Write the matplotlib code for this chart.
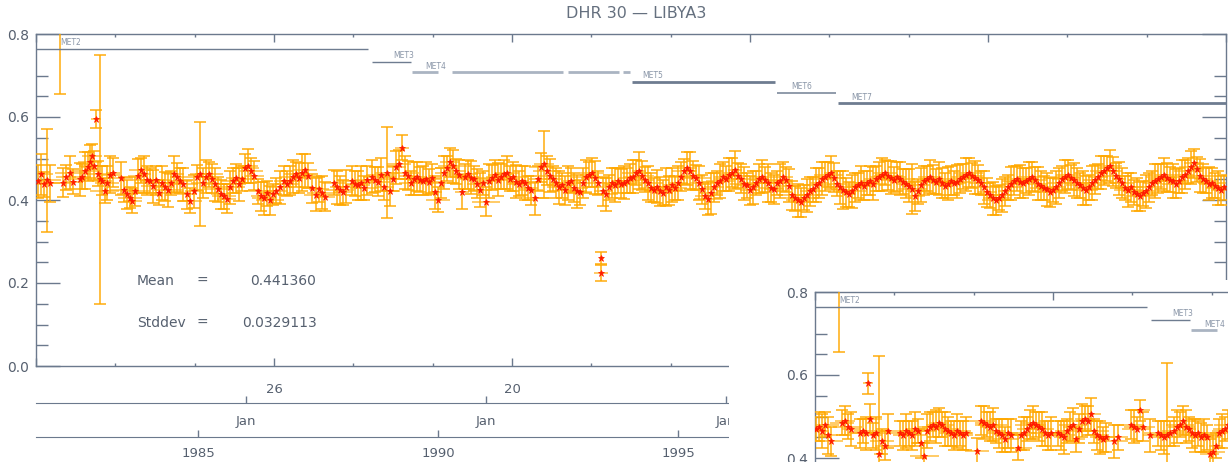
import matplotlib
matplotlib.use("Agg")
import matplotlib.pyplot as plt
from matplotlib.patches import Rectangle

# ---------------- data ----------------
TITLE = "DHR 30 \u2014 LIBYA3"
MEAN_TEXT = "0.441360"
STDDEV_TEXT = "0.0329113"

MAIN_YEARS = [
    1981.67, 1981.73, 1981.79, 1981.85, 1981.92, 1982.13, 1982.19, 1982.25, 1982.33, 1982.40,
    1982.54, 1982.58, 1982.65, 1982.71, 1982.75, 1982.79, 1982.83, 1982.875, 1982.92, 1982.96,
    1983.00, 1983.06, 1983.10, 1983.17, 1983.23, 1983.40, 1983.46, 1983.52, 1983.58, 1983.63,
    1983.69, 1983.75, 1983.81, 1983.88, 1983.94, 1984.00, 1984.06, 1984.13, 1984.19, 1984.25,
    1984.31, 1984.38, 1984.44, 1984.50, 1984.56, 1984.63, 1984.69, 1984.77, 1984.83, 1984.92,
    1984.98, 1985.04, 1985.10, 1985.17, 1985.23, 1985.29, 1985.35, 1985.42, 1985.48, 1985.54,
    1985.60, 1985.67, 1985.73, 1985.79, 1985.85, 1985.92, 1985.98, 1986.04, 1986.10, 1986.17,
    1986.25, 1986.31, 1986.38, 1986.44, 1986.50, 1986.56, 1986.63, 1986.71, 1986.79, 1986.85,
    1986.92, 1986.98, 1987.04, 1987.10, 1987.17, 1987.23, 1987.29, 1987.38, 1987.46, 1987.52,
    1987.58, 1987.65, 1987.83, 1987.90, 1987.96, 1988.02, 1988.08, 1988.21, 1988.27, 1988.33,
    1988.40, 1988.46, 1988.52, 1988.63, 1988.69, 1988.75, 1988.81, 1988.88, 1988.94, 1989.00,
    1989.06, 1989.13, 1989.19, 1989.25, 1989.31, 1989.38, 1989.44, 1989.50, 1989.56, 1989.63,
    1989.69, 1989.75, 1989.81, 1989.88, 1989.94, 1990.00, 1990.06, 1990.13, 1990.19, 1990.25,
    1990.31, 1990.38, 1990.44, 1990.50, 1990.56, 1990.63, 1990.69, 1990.75, 1990.81, 1990.88,
    1990.94, 1991.00, 1991.06, 1991.13, 1991.19, 1991.25, 1991.31, 1991.38, 1991.44, 1991.50,
    1991.56, 1991.63, 1991.69, 1991.75, 1991.81, 1991.88, 1991.94, 1992.02, 1992.08, 1992.15,
    1992.21, 1992.27, 1992.33, 1992.40, 1992.46, 1992.52, 1992.58, 1992.65, 1992.71, 1992.77,
    1992.83, 1992.90, 1992.96, 1993.02, 1993.08, 1993.15, 1993.21, 1993.27, 1993.33, 1993.40,
    1993.40, 1993.44, 1993.50, 1993.56, 1993.63, 1993.69, 1993.75, 1993.81, 1993.88, 1993.94,
    1994.00, 1994.06, 1994.13, 1994.19, 1994.25, 1994.31, 1994.38, 1994.44, 1994.50, 1994.56, 1994.63, 1994.69, 1994.75, 1994.81, 1994.88, 1994.94,
    1995.00, 1995.06, 1995.13, 1995.19, 1995.25, 1995.31, 1995.38, 1995.44, 1995.50, 1995.56, 1995.63, 1995.69, 1995.75, 1995.81, 1995.88, 1995.94,
    1996.00, 1996.06, 1996.13, 1996.19, 1996.25, 1996.31, 1996.38, 1996.44, 1996.50, 1996.56, 1996.63, 1996.69, 1996.75, 1996.81, 1996.88, 1996.94,
    1997.00, 1997.06, 1997.13, 1997.19, 1997.25, 1997.31, 1997.38, 1997.44, 1997.50, 1997.56, 1997.63, 1997.69, 1997.75, 1997.81, 1997.88, 1997.94,
    1998.00, 1998.06, 1998.13, 1998.19, 1998.25, 1998.31, 1998.38, 1998.44, 1998.50, 1998.56, 1998.63, 1998.69, 1998.75, 1998.81, 1998.88, 1998.94,
    1999.00, 1999.06, 1999.13, 1999.19, 1999.25, 1999.31, 1999.38, 1999.44, 1999.50, 1999.56, 1999.63, 1999.69, 1999.75, 1999.81, 1999.88, 1999.94,
    2000.00, 2000.06, 2000.13, 2000.19, 2000.25, 2000.31, 2000.38, 2000.44, 2000.50, 2000.56, 2000.63, 2000.69, 2000.75, 2000.81, 2000.88, 2000.94,
    2001.00, 2001.06, 2001.13, 2001.19, 2001.25, 2001.31, 2001.38, 2001.44, 2001.50, 2001.56, 2001.63, 2001.69, 2001.75, 2001.81, 2001.88, 2001.94,
    2002.00, 2002.06, 2002.13, 2002.19, 2002.25, 2002.31, 2002.38, 2002.44, 2002.50, 2002.56, 2002.63, 2002.69, 2002.75, 2002.81, 2002.88, 2002.94,
    2003.00, 2003.06, 2003.13, 2003.19, 2003.25, 2003.31, 2003.38, 2003.44, 2003.50, 2003.56, 2003.63, 2003.69, 2003.75, 2003.81, 2003.88, 2003.94,
    2004.00, 2004.06, 2004.13, 2004.19, 2004.25, 2004.31, 2004.38, 2004.44, 2004.50, 2004.56, 2004.63, 2004.69, 2004.75, 2004.81, 2004.88, 2004.94,
    2005.00, 2005.06, 2005.13, 2005.19, 2005.25, 2005.31, 2005.38, 2005.44, 2005.50, 2005.56, 2005.63, 2005.69, 2005.75, 2005.81, 2005.88, 2005.94,
    2006.00, 2006.06, 2006.13, 2006.19, 2006.25, 2006.31, 2006.38,
]

MAIN_VALUES = [
    0.445, 0.462, 0.438, 0.447, 0.440, 0.860, 0.442, 0.455, 0.466, 0.444,
    0.450, 0.456, 0.471, 0.480, 0.492, 0.505, 0.482, 0.595, 0.463, 0.450,
    0.446, 0.422, 0.441, 0.461, 0.466, 0.452, 0.425, 0.414, 0.406, 0.398,
    0.421, 0.458, 0.472, 0.462, 0.448, 0.446, 0.433, 0.447, 0.418, 0.441,
    0.432, 0.424, 0.441, 0.462, 0.455, 0.446, 0.438, 0.414, 0.398, 0.421,
    0.455, 0.462, 0.441, 0.456, 0.462, 0.451, 0.438, 0.426, 0.414, 0.409,
    0.403, 0.431, 0.446, 0.452, 0.438, 0.451, 0.476, 0.482, 0.471, 0.458,
    0.421, 0.409, 0.404, 0.416, 0.399, 0.414, 0.422, 0.431, 0.446, 0.439,
    0.446, 0.456, 0.462, 0.453, 0.466, 0.472, 0.459, 0.428, 0.413, 0.426,
    0.418, 0.408, 0.442, 0.431, 0.424, 0.419, 0.432, 0.446, 0.439, 0.436,
    0.441, 0.429, 0.447, 0.456, 0.449, 0.444, 0.461, 0.431, 0.466, 0.421,
    0.451, 0.479, 0.486, 0.526, 0.466, 0.459, 0.441, 0.451, 0.456, 0.449,
    0.446, 0.451, 0.444, 0.452, 0.419, 0.401, 0.441, 0.466, 0.476, 0.491,
    0.481, 0.469, 0.461, 0.419, 0.456, 0.462, 0.454, 0.451, 0.439, 0.424,
    0.441, 0.396, 0.446, 0.454, 0.461, 0.449, 0.456, 0.462, 0.466, 0.451,
    0.456, 0.444, 0.439, 0.446, 0.441, 0.429, 0.424, 0.404, 0.451, 0.479,
    0.486, 0.471, 0.459, 0.451, 0.441, 0.431, 0.436, 0.424, 0.441, 0.446,
    0.429, 0.421, 0.419, 0.441, 0.456, 0.461, 0.466, 0.454, 0.441, 0.260,
    0.224, 0.421, 0.414, 0.431, 0.441, 0.436, 0.446, 0.439, 0.442, 0.446,
    0.452, 0.456, 0.466, 0.471, 0.459, 0.449, 0.441, 0.429, 0.424, 0.432, 0.421, 0.418, 0.431, 0.424, 0.436, 0.429,
    0.441, 0.456, 0.469, 0.476, 0.471, 0.459, 0.454, 0.441, 0.426, 0.409, 0.403, 0.416, 0.431, 0.441, 0.446, 0.456,
    0.451, 0.461, 0.466, 0.472, 0.459, 0.451, 0.439, 0.436, 0.424, 0.431, 0.441, 0.451, 0.456, 0.449, 0.441, 0.429,
    0.426, 0.441, 0.446, 0.456, 0.449, 0.434, 0.411, 0.404, 0.399, 0.394, 0.406, 0.411, 0.421, 0.426, 0.436, 0.441,
    0.451, 0.456, 0.461, 0.466, 0.454, 0.439, 0.431, 0.424, 0.419, 0.414, 0.421, 0.431, 0.436, 0.441, 0.434, 0.441,
    0.446, 0.439, 0.451, 0.456, 0.461, 0.466, 0.459, 0.454, 0.449, 0.456, 0.451, 0.444, 0.439, 0.434, 0.426, 0.409,
    0.421, 0.436, 0.446, 0.451, 0.456, 0.449, 0.444, 0.451, 0.441, 0.434, 0.439, 0.446, 0.441, 0.444, 0.451, 0.456,
    0.461, 0.466, 0.459, 0.454, 0.449, 0.441, 0.431, 0.419, 0.411, 0.404, 0.399, 0.406, 0.411, 0.421, 0.431, 0.439,
    0.446, 0.451, 0.444, 0.441, 0.446, 0.451, 0.456, 0.449, 0.439, 0.434, 0.429, 0.426, 0.419, 0.424, 0.431, 0.441,
    0.451, 0.456, 0.461, 0.454, 0.449, 0.441, 0.436, 0.429, 0.424, 0.431, 0.441, 0.449, 0.456, 0.466, 0.471, 0.476,
    0.481, 0.469, 0.459, 0.451, 0.441, 0.429, 0.424, 0.431, 0.419, 0.414, 0.409, 0.416, 0.421, 0.431, 0.441, 0.446,
    0.451, 0.456, 0.461, 0.454, 0.449, 0.446, 0.439, 0.446, 0.456, 0.461, 0.471, 0.479, 0.489, 0.474, 0.459, 0.451,
    0.446, 0.439, 0.441, 0.434, 0.429, 0.424, 0.431,
]

MAIN_YERR = [
    0.040, 0.050, 0.030, 0.125, 0.045, 0.205, 0.035, 0.030, 0.040, 0.030,
    0.040, 0.030, 0.045, 0.035, 0.040, 0.030, 0.035, 0.022, 0.030, 0.300,
    0.035, 0.030, 0.040, 0.045, 0.035, 0.040, 0.030, 0.035, 0.025, 0.030,
    0.035, 0.040, 0.030, 0.045, 0.035, 0.030, 0.040, 0.035, 0.030, 0.040,
    0.035, 0.040, 0.030, 0.045, 0.035, 0.030, 0.040, 0.035, 0.030, 0.040,
    0.030, 0.125, 0.035, 0.040, 0.030, 0.035, 0.040, 0.030, 0.035, 0.030,
    0.035, 0.040, 0.030, 0.035, 0.040, 0.030, 0.035, 0.040, 0.030, 0.035,
    0.030, 0.035, 0.040, 0.030, 0.035, 0.025, 0.030, 0.040, 0.035, 0.030,
    0.035, 0.040, 0.030, 0.035, 0.045, 0.040, 0.030, 0.035, 0.040, 0.030,
    0.040, 0.035, 0.030, 0.040, 0.035, 0.030, 0.040, 0.035, 0.030, 0.035,
    0.040, 0.030, 0.035, 0.040, 0.030, 0.035, 0.040, 0.030, 0.110, 0.035,
    0.030, 0.040, 0.035, 0.030, 0.040, 0.035, 0.030, 0.040, 0.035, 0.030,
    0.035, 0.040, 0.030, 0.035, 0.040, 0.030, 0.035, 0.040, 0.030, 0.035,
    0.040, 0.030, 0.035, 0.040, 0.030, 0.035, 0.040, 0.030, 0.035, 0.040,
    0.030, 0.035, 0.040, 0.030, 0.035, 0.040, 0.030, 0.035, 0.040, 0.030,
    0.035, 0.040, 0.030, 0.035, 0.040, 0.030, 0.035, 0.040, 0.030, 0.035,
    0.080, 0.035, 0.040, 0.030, 0.035, 0.040, 0.030, 0.035, 0.040, 0.030,
    0.035, 0.040, 0.030, 0.035, 0.040, 0.030, 0.035, 0.040, 0.030, 0.015,
    0.020, 0.035, 0.040, 0.030, 0.035, 0.040, 0.030, 0.035, 0.040, 0.030,
    0.035, 0.040, 0.030, 0.045, 0.035, 0.030, 0.040, 0.035, 0.030, 0.040, 0.035, 0.030, 0.045, 0.035, 0.040, 0.030,
    0.040, 0.035, 0.030, 0.040, 0.045, 0.035, 0.030, 0.040, 0.035, 0.030, 0.040, 0.050, 0.035, 0.030, 0.040, 0.035,
    0.030, 0.040, 0.035, 0.045, 0.030, 0.035, 0.040, 0.030, 0.035, 0.040, 0.030, 0.035, 0.040, 0.030, 0.045, 0.035,
    0.035, 0.030, 0.040, 0.035, 0.030, 0.040, 0.035, 0.030, 0.040, 0.035, 0.030, 0.040, 0.035, 0.030, 0.040, 0.035,
    0.040, 0.035, 0.030, 0.040, 0.035, 0.030, 0.040, 0.045, 0.035, 0.030, 0.040, 0.035, 0.030, 0.040, 0.035, 0.030,
    0.035, 0.040, 0.030, 0.035, 0.040, 0.030, 0.035, 0.040, 0.030, 0.035, 0.040, 0.030, 0.035, 0.040, 0.060, 0.035,
    0.030, 0.040, 0.035, 0.030, 0.040, 0.035, 0.030, 0.040, 0.035, 0.030, 0.040, 0.035, 0.030, 0.040, 0.035, 0.030,
    0.040, 0.035, 0.030, 0.040, 0.035, 0.030, 0.040, 0.035, 0.030, 0.040, 0.035, 0.030, 0.040, 0.035, 0.030, 0.040,
    0.035, 0.030, 0.040, 0.035, 0.030, 0.040, 0.035, 0.030, 0.040, 0.035, 0.030, 0.040, 0.035, 0.030, 0.040, 0.035,
    0.030, 0.040, 0.035, 0.030, 0.040, 0.035, 0.030, 0.040, 0.035, 0.030, 0.040, 0.035, 0.030, 0.040, 0.035, 0.030,
    0.040, 0.035, 0.030, 0.040, 0.035, 0.030, 0.040, 0.035, 0.030, 0.040, 0.035, 0.030, 0.040, 0.035, 0.030, 0.040,
    0.035, 0.030, 0.040, 0.035, 0.030, 0.040, 0.035, 0.030, 0.040, 0.035, 0.030, 0.040, 0.035, 0.030, 0.040, 0.035,
    0.030, 0.040, 0.035, 0.030, 0.040, 0.035, 0.030,
]

MAIN_XERR = [
    0.20, 0.25, 0.15, 0.30, 0.20, 0.05, 0.25, 0.20, 0.30, 0.20,
    0.25, 0.20, 0.30, 0.15, 0.25, 0.20, 0.30, 0.10, 0.25, 0.10,
    0.20, 0.30, 0.25, 0.20, 0.15, 0.25, 0.30, 0.20, 0.25, 0.20,
    0.30, 0.20, 0.25, 0.15, 0.30, 0.20, 0.25, 0.30, 0.20, 0.25,
    0.20, 0.30, 0.25, 0.20, 0.15, 0.25, 0.30, 0.20, 0.25, 0.20,
    0.30, 0.20, 0.25, 0.15, 0.30, 0.20, 0.25, 0.30, 0.20, 0.25,
    0.20, 0.30, 0.25, 0.20, 0.15, 0.25, 0.30, 0.20, 0.25, 0.20,
    0.30, 0.20, 0.25, 0.15, 0.30, 0.20, 0.25, 0.30, 0.20, 0.25,
    0.20, 0.30, 0.25, 0.20, 0.15, 0.25, 0.30, 0.20, 0.25, 0.20,
    0.30, 0.20, 0.25, 0.15, 0.30, 0.20, 0.25, 0.30, 0.20, 0.25,
    0.20, 0.30, 0.25, 0.20, 0.15, 0.25, 0.30, 0.20, 0.25, 0.20,
    0.30, 0.20, 0.25, 0.15, 0.30, 0.20, 0.25, 0.30, 0.20, 0.25,
    0.20, 0.30, 0.25, 0.20, 0.15, 0.25, 0.30, 0.20, 0.25, 0.20,
    0.30, 0.20, 0.25, 0.15, 0.30, 0.20, 0.25, 0.30, 0.20, 0.25,
    0.20, 0.30, 0.25, 0.20, 0.15, 0.25, 0.30, 0.20, 0.25, 0.20,
    0.30, 0.20, 0.25, 0.15, 0.30, 0.20, 0.25, 0.30, 0.20, 0.25,
    0.20, 0.30, 0.25, 0.20, 0.15, 0.25, 0.30, 0.20, 0.25, 0.20,
    0.30, 0.20, 0.25, 0.15, 0.30, 0.20, 0.25, 0.30, 0.20, 0.05,
    0.15, 0.20, 0.25, 0.30, 0.20, 0.25, 0.15, 0.30, 0.20, 0.25,
    0.25, 0.20, 0.30, 0.15, 0.25, 0.20, 0.30, 0.25, 0.20, 0.15, 0.30, 0.20, 0.25, 0.30, 0.20, 0.25,
    0.20, 0.30, 0.25, 0.20, 0.15, 0.25, 0.30, 0.20, 0.25, 0.20, 0.30, 0.25, 0.20, 0.15, 0.30, 0.20,
    0.25, 0.20, 0.30, 0.15, 0.25, 0.20, 0.30, 0.25, 0.20, 0.15, 0.30, 0.20, 0.25, 0.30, 0.20, 0.25,
    0.20, 0.30, 0.25, 0.20, 0.15, 0.25, 0.30, 0.20, 0.25, 0.20, 0.30, 0.25, 0.20, 0.15, 0.30, 0.20,
    0.25, 0.20, 0.30, 0.15, 0.25, 0.20, 0.30, 0.25, 0.20, 0.15, 0.30, 0.20, 0.25, 0.30, 0.20, 0.25,
    0.20, 0.30, 0.25, 0.20, 0.15, 0.25, 0.30, 0.20, 0.25, 0.20, 0.30, 0.25, 0.20, 0.15, 0.30, 0.20,
    0.25, 0.20, 0.30, 0.15, 0.25, 0.20, 0.30, 0.25, 0.20, 0.15, 0.30, 0.20, 0.25, 0.30, 0.20, 0.25,
    0.20, 0.30, 0.25, 0.20, 0.15, 0.25, 0.30, 0.20, 0.25, 0.20, 0.30, 0.25, 0.20, 0.15, 0.30, 0.20,
    0.25, 0.20, 0.30, 0.15, 0.25, 0.20, 0.30, 0.25, 0.20, 0.15, 0.30, 0.20, 0.25, 0.30, 0.20, 0.25,
    0.20, 0.30, 0.25, 0.20, 0.15, 0.25, 0.30, 0.20, 0.25, 0.20, 0.30, 0.25, 0.20, 0.15, 0.30, 0.20,
    0.25, 0.20, 0.30, 0.15, 0.25, 0.20, 0.30, 0.25, 0.20, 0.15, 0.30, 0.20, 0.25, 0.30, 0.20, 0.25,
    0.20, 0.30, 0.25, 0.20, 0.15, 0.25, 0.30, 0.20, 0.25, 0.20, 0.30, 0.25, 0.20, 0.15, 0.30, 0.20,
    0.25, 0.20, 0.30, 0.15, 0.25, 0.20, 0.30,
]

INSET_YEARS = [
    1981.65, 1981.71, 1981.77, 1981.83, 1981.90, 1981.96, 1982.13, 1982.19, 1982.25, 1982.31,
    1982.38, 1982.56, 1982.63, 1982.69, 1982.73, 1982.77, 1982.83, 1982.90, 1982.96, 1983.02,
    1983.08, 1983.15, 1983.40, 1983.46, 1983.52, 1983.58, 1983.65, 1983.71, 1983.77, 1983.83,
    1983.90, 1983.96, 1984.02, 1984.08, 1984.15, 1984.21, 1984.27, 1984.33, 1984.40, 1984.46,
    1984.52, 1984.58, 1984.65, 1984.71, 1984.77, 1985.00, 1985.08, 1985.15, 1985.21, 1985.27,
    1985.33, 1985.40, 1985.46, 1985.52, 1985.58, 1985.65, 1985.71, 1985.85, 1985.92, 1985.98,
    1986.04, 1986.10, 1986.17, 1986.23, 1986.29, 1986.35, 1986.42, 1986.48, 1986.54, 1986.69,
    1986.75, 1986.81, 1986.88, 1986.94, 1987.00, 1987.06, 1987.13, 1987.19, 1987.25, 1987.31,
    1987.38, 1987.44, 1987.50, 1987.56, 1987.63, 1987.69, 1987.85, 1987.94, 1988.21, 1988.27,
    1988.33, 1988.40, 1988.46, 1988.60, 1988.77, 1988.83, 1988.90, 1988.96, 1989.02, 1989.10,
    1989.17, 1989.23, 1989.29, 1989.35, 1989.42, 1989.48, 1989.54, 1989.60, 1989.67, 1989.73,
    1989.79, 1989.85, 1989.92, 1989.98, 1990.04, 1990.10, 1990.17, 1990.23,
]

INSET_VALUES = [
    0.470, 0.475, 0.465, 0.480, 0.455, 0.440, 0.860, 0.485, 0.490, 0.475,
    0.470, 0.460, 0.465, 0.460, 0.580, 0.495, 0.455, 0.460, 0.410, 0.440,
    0.430, 0.465, 0.460, 0.455, 0.465, 0.460, 0.455, 0.470, 0.465, 0.435,
    0.405, 0.465, 0.475, 0.480, 0.475, 0.485, 0.480, 0.470, 0.465, 0.460,
    0.455, 0.465, 0.460, 0.455, 0.460, 0.418, 0.490, 0.485, 0.480, 0.475,
    0.480, 0.465, 0.460, 0.455, 0.445, 0.460, 0.455, 0.425, 0.455, 0.460,
    0.470, 0.480, 0.485, 0.480, 0.475, 0.470, 0.460, 0.455, 0.460, 0.460,
    0.455, 0.450, 0.465, 0.475, 0.480, 0.445, 0.470, 0.490, 0.495, 0.490,
    0.505, 0.465, 0.455, 0.450, 0.445, 0.450, 0.440, 0.450, 0.480, 0.475,
    0.470, 0.515, 0.475, 0.455, 0.460, 0.455, 0.450, 0.455, 0.460, 0.465,
    0.475, 0.480, 0.490, 0.475, 0.470, 0.460, 0.455, 0.460, 0.450, 0.455,
    0.450, 0.410, 0.415, 0.430, 0.460, 0.465, 0.470, 0.480,
]

INSET_YERR = [
    0.030, 0.035, 0.040, 0.030, 0.045, 0.035, 0.205, 0.030, 0.035, 0.030,
    0.040, 0.035, 0.030, 0.040, 0.025, 0.035, 0.030, 0.040, 0.235, 0.030,
    0.035, 0.040, 0.030, 0.035, 0.040, 0.030, 0.035, 0.040, 0.030, 0.035,
    0.030, 0.040, 0.035, 0.030, 0.040, 0.035, 0.030, 0.040, 0.035, 0.030,
    0.035, 0.040, 0.030, 0.035, 0.040, 0.030, 0.035, 0.040, 0.030, 0.035,
    0.040, 0.030, 0.035, 0.040, 0.030, 0.035, 0.040, 0.030, 0.035, 0.040,
    0.030, 0.035, 0.040, 0.030, 0.035, 0.040, 0.030, 0.035, 0.040, 0.030,
    0.035, 0.040, 0.030, 0.035, 0.040, 0.030, 0.035, 0.040, 0.030, 0.035,
    0.040, 0.030, 0.035, 0.040, 0.030, 0.035, 0.040, 0.030, 0.035, 0.040,
    0.030, 0.025, 0.035, 0.040, 0.030, 0.035, 0.040, 0.175, 0.030, 0.035,
    0.040, 0.030, 0.035, 0.040, 0.030, 0.035, 0.040, 0.030, 0.035, 0.040,
    0.030, 0.035, 0.040, 0.030, 0.035, 0.040, 0.030, 0.035,
]

INSET_XERR = [
    0.20, 0.25, 0.15, 0.30, 0.20, 0.25, 0.05, 0.25, 0.20, 0.30,
    0.20, 0.25, 0.20, 0.30, 0.10, 0.25, 0.20, 0.30, 0.10, 0.25,
    0.20, 0.30, 0.25, 0.20, 0.15, 0.25, 0.30, 0.20, 0.25, 0.20,
    0.30, 0.20, 0.25, 0.15, 0.30, 0.20, 0.25, 0.30, 0.20, 0.25,
    0.20, 0.30, 0.25, 0.20, 0.15, 0.25, 0.30, 0.20, 0.25, 0.20,
    0.30, 0.20, 0.25, 0.15, 0.30, 0.20, 0.25, 0.30, 0.20, 0.25,
    0.20, 0.30, 0.25, 0.20, 0.15, 0.25, 0.30, 0.20, 0.25, 0.20,
    0.30, 0.20, 0.25, 0.15, 0.30, 0.20, 0.25, 0.30, 0.20, 0.25,
    0.20, 0.30, 0.25, 0.20, 0.15, 0.25, 0.30, 0.20, 0.25, 0.20,
    0.30, 0.20, 0.25, 0.15, 0.30, 0.20, 0.25, 0.10, 0.20, 0.25,
    0.20, 0.30, 0.25, 0.20, 0.15, 0.25, 0.30, 0.20, 0.25, 0.20,
    0.30, 0.20, 0.25, 0.15, 0.30, 0.20, 0.25, 0.30,
]

MET_NAMES = ["MET2", "MET3", "MET4", "MET5", "MET6", "MET7"]
MET_LEVELS = [0.764, 0.733, 0.708, 0.684, 0.658, 0.633]
MET_SEGMENTS = [
    [(1981.625, 1988.54)],
    [(1988.625, 1989.44)],
    [(1989.46, 1990.00), (1990.29, 1992.60), (1992.71, 1993.77), (1993.85, 1994.00)],
    [(1994.04, 1997.02)],
    [(1997.06, 1998.29)],
    [(1998.33, 2006.42)],
]
MET_LABEL_X = [1982.12, 1989.06, 1989.73, 1994.25, 1997.37, 1998.62]
MET_WIDTHS = [1.0, 1.0, 2.0, 2.0, 1.2, 2.0]
MET_COLORS = ["#6e7c90", "#6e7c90", "#aab4c2", "#6e7c90", "#7d8a9c", "#6e7c90"]

Y_MAJOR = [0.0, 0.2, 0.4, 0.6, 0.8]
Y_LABELS = ["0.0", "0.2", "0.4", "0.6", "0.8"]
Y_MINOR = [0.05, 0.10, 0.15, 0.25, 0.30, 0.35, 0.45, 0.50, 0.55, 0.65, 0.70]
BOTTOM_LABELS = ["", "26", "20", "", "", ""]
JAN_TICKS = [1986.0, 1991.0, 1996.0]
JAN_LABELS = ["Jan", "Jan", "Jan"]
YEAR_TICKS = [1985.0, 1990.0, 1995.0]
YEAR_LABELS = ["1985", "1990", "1995"]

# ---------------- style ----------------
W, H = 1228, 462
XMIN, XMAX = 1981.625, 2006.417
AXIS = "#6b798d"
TEXT = "#56606f"
ORANGE = "#ffa800"
RED = "#ff1a00"


def box(l, t, r, b):
    return [l / W, 1 - b / H, (r - l) / W, (b - t) / H]


fig = plt.figure(figsize=(W / 100, H / 100), dpi=100)
fig.patch.set_facecolor("white")


def style_panel(ax, bottom_labels):
    ax.set_xlim(XMIN, XMAX)
    ax.set_ylim(0, 0.8)
    for s in ax.spines.values():
        s.set_color(AXIS)
        s.set_linewidth(1.0)
    step = (XMAX - XMIN) / 15
    xt = [XMIN + k * step for k in range(16)]
    ax.set_xticks([xt[k] for k in (0, 3, 6, 9, 12, 15)], labels=bottom_labels)
    ax.set_xticks([xt[k] for k in range(16) if k % 3], minor=True)
    ax.set_yticks(Y_MAJOR, labels=Y_LABELS)
    ax.set_yticks(Y_MINOR, minor=True)
    ax.tick_params(axis="x", which="major", direction="in", length=6, width=1,
                   top=True, bottom=True, color=AXIS, labelsize=9.5,
                   labelcolor=TEXT, pad=12)
    ax.tick_params(axis="x", which="minor", direction="in", length=2.5, width=1,
                   top=True, bottom=True, color=AXIS)
    ax.tick_params(axis="y", which="major", direction="in", length=17, width=1,
                   left=True, right=True, color=AXIS, labelsize=10,
                   labelcolor=TEXT, pad=5)
    ax.tick_params(axis="y", which="minor", direction="in", length=8.5, width=1,
                   left=True, right=True, color=AXIS)


def draw_panel(ax, xs, ys, yerr, xerr, label_limit):
    ax.errorbar(xs, ys, xerr=xerr, fmt="none", ecolor=ORANGE, elinewidth=1.4,
                capsize=0, alpha=0.6, zorder=2)
    ax.errorbar(xs, ys, yerr=yerr, fmt="none", ecolor=ORANGE, elinewidth=1.1,
                capsize=4, capthick=1.1, alpha=0.95, zorder=3)
    ax.plot(xs, ys, ls="none", marker="*", ms=5, color=RED, mec=RED, mew=0.5,
            zorder=4)
    for name, lev, segs, lx, lw, col in zip(MET_NAMES, MET_LEVELS, MET_SEGMENTS,
                                            MET_LABEL_X, MET_WIDTHS, MET_COLORS):
        for a, b in segs:
            ax.plot([a, b], [lev, lev], color=col, lw=lw, solid_capstyle="butt",
                    zorder=5)
        if lx < label_limit:
            ax.text(lx, lev + 0.004, name, fontsize=5.5, color="#8a96a8",
                    ha="left", va="bottom", zorder=6)


# main panel
ax = fig.add_axes(box(36, 34, 1226, 366))
ax.set_zorder(0)
style_panel(ax, BOTTOM_LABELS)
draw_panel(ax, MAIN_YEARS, MAIN_VALUES, MAIN_YERR, MAIN_XERR, XMAX)

# date axes under the main panel
for top, ticks, labels, pad in ((403, JAN_TICKS, JAN_LABELS, 9),
                                (437, YEAR_TICKS, YEAR_LABELS, 7)):
    a2 = fig.add_axes(box(36, top - 1, 1226, top))
    a2.set_zorder(0)
    a2.patch.set_alpha(0)
    a2.set_xlim(XMIN, XMAX)
    a2.set_yticks([])
    for k in ("top", "left", "right"):
        a2.spines[k].set_visible(False)
    a2.spines["bottom"].set_color(AXIS)
    a2.set_xticks(ticks, labels=labels)
    a2.tick_params(axis="x", direction="in", length=5, width=1, color=AXIS,
                   labelsize=9.5, labelcolor=TEXT, pad=pad)

# statistics text
for y, name, val, vx in ((281, "Mean", MEAN_TEXT, 250), (323, "Stddev", STDDEV_TEXT, 242)):
    fig.text(137 / W, 1 - y / H, name, fontsize=10, color=TEXT, va="center")
    fig.text(197 / W, 1 - y / H, "=", fontsize=10, color=TEXT, va="center")
    fig.text(vx / W, 1 - y / H, val, fontsize=10, color=TEXT, va="center")

fig.text(636 / W, 1 - 14 / H, TITLE, fontsize=11.5, color="#65707f",
         ha="center", va="center")

# white backing for the second (overlapping) plot
rect = Rectangle((729 / W, 0), (W - 729) / W, (H - 280) / H,
                 transform=fig.transFigure, facecolor="white",
                 edgecolor="none", zorder=1)
fig.add_artist(rect)

# second panel (same layout, partially outside the canvas)
ax_in = fig.add_axes(box(815, 292, 815 + 1190, 292 + 332))
ax_in.set_zorder(2)
style_panel(ax_in, ["", "", "", "", "", ""])
draw_panel(ax_in, INSET_YEARS, INSET_VALUES, INSET_YERR, INSET_XERR, 1990.3)

fig.savefig("out.png", dpi=100, facecolor="white")
